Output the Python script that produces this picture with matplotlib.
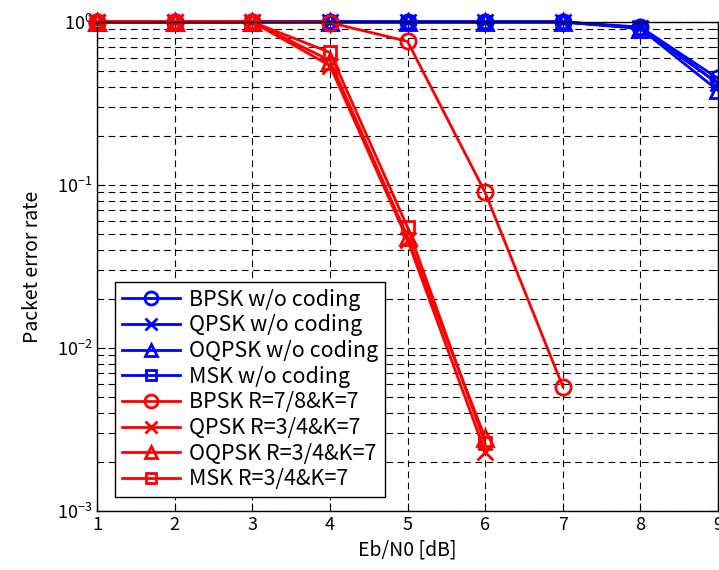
import matplotlib
matplotlib.use("Agg")
import matplotlib.pyplot as plt
from matplotlib.ticker import LogLocator, NullFormatter

plt.rcParams['font.family'] = ['Noto Sans CJK JP', 'DejaVu Sans']
plt.rcParams['mathtext.fontset'] = 'dejavusans'

ebn0 = [1, 2, 3, 4, 5, 6, 7, 8, 9]

bpsk_uncoded = [1.0, 1.0, 1.0, 1.0, 1.0, 1.0, 1.0, 0.93, 0.45]
qpsk_uncoded = [1.0, 1.0, 1.0, 1.0, 1.0, 1.0, 1.0, 0.92, 0.42]
oqpsk_uncoded = [1.0, 1.0, 1.0, 1.0, 1.0, 1.0, 1.0, 0.91, 0.38]
msk_uncoded = [1.0, 1.0, 1.0, 1.0, 1.0, 1.0, 1.0, 0.92, 0.42]

ebn0_bpsk_coded = [1, 2, 3, 4, 5, 6, 7]
bpsk_coded = [1.0, 1.0, 1.0, 0.99, 0.76, 0.09, 0.0058]
ebn0_coded = [1, 2, 3, 4, 5, 6]
qpsk_coded = [1.0, 1.0, 1.0, 0.54, 0.046, 0.0023]
oqpsk_coded = [1.0, 1.0, 1.0, 0.58, 0.048, 0.0028]
msk_coded = [1.0, 1.0, 1.0, 0.65, 0.055, 0.0026]

labels = ['BPSK w/o coding', 'QPSK w/o coding', 'OQPSK w/o coding', 'MSK w/o coding',
          'BPSK R=7/8&K=7', 'QPSK R=3/4&K=7', 'OQPSK R=3/4&K=7', 'MSK R=3/4&K=7']

fig = plt.figure(figsize=(7.19, 5.70), dpi=100)
ax = fig.add_axes([0.135, 0.1035, 0.8636, 0.858])

lw = 2.0
ms = 11
series = [
    (ebn0, bpsk_uncoded, 'blue', 'o'),
    (ebn0, qpsk_uncoded, 'blue', 'x'),
    (ebn0, oqpsk_uncoded, 'blue', '^'),
    (ebn0, msk_uncoded, 'blue', 's'),
    (ebn0_bpsk_coded, bpsk_coded, 'red', 'o'),
    (ebn0_coded, qpsk_coded, 'red', 'x'),
    (ebn0_coded, oqpsk_coded, 'red', '^'),
    (ebn0_coded, msk_coded, 'red', 's'),
]
for (x, y, c, m), lab in zip(series, labels):
    size = ms * 0.8 if m == 's' else ms
    ax.plot(x, y, color=c, marker=m, lw=lw, ms=size, mfc='none', mew=2.0,
            label=lab, clip_on=False)

ax.set_yscale('log')
ax.set_xlim(1, 9)
ax.set_ylim(1e-3, 1)
ax.set_xticks(ebn0)
ax.yaxis.set_major_locator(LogLocator(base=10, numticks=10))
ax.yaxis.set_minor_locator(LogLocator(base=10, subs=range(2, 10), numticks=10))
ax.yaxis.set_minor_formatter(NullFormatter())

ax.grid(True, which='major', color='black', ls=(0, (6, 4)), lw=0.8)
ax.grid(True, which='minor', axis='y', color='black', ls=(0, (6, 4)), lw=0.8)

ax.tick_params(which='both', direction='in', labelsize=13, top=True, right=True)
ax.tick_params(which='major', length=6)
ax.tick_params(which='minor', length=3)
for s in ax.spines.values():
    s.set_linewidth(1.0)

ax.set_xlabel('Eb/N0 [dB]', fontsize=14)
ax.set_ylabel('Packet error rate', fontsize=14, labelpad=10)

leg = ax.legend(loc='lower left', bbox_to_anchor=(0.029, 0.029), borderaxespad=0,
                fontsize=15.5, fancybox=False, edgecolor='black', framealpha=1,
                handlelength=2.7, handletextpad=0.45, labelspacing=0.17,
                borderpad=0.3, markerscale=0.85)
leg.get_frame().set_linewidth(1.0)

fig.savefig('out.png', dpi=100)
